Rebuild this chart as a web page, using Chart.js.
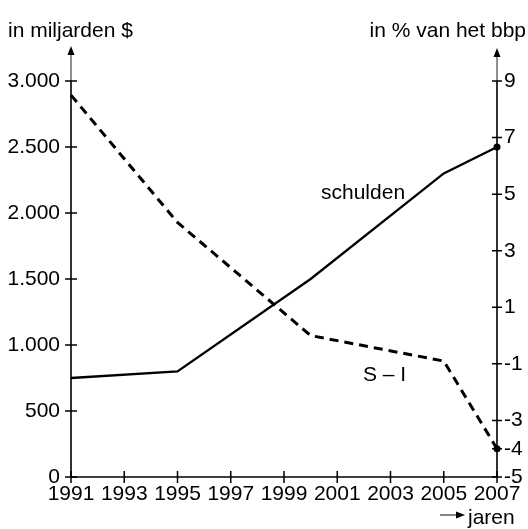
<!DOCTYPE html>
<html>
<head>
<meta charset="utf-8">
<script src="https://cdn.jsdelivr.net/npm/chart.js@4"></script>
<style>
  html, body { margin: 0; padding: 0; background: #fff; }
  #wrap { width: 528px; height: 529px; position: relative; }
</style>
</head>
<body>
<div id="wrap"><canvas id="c" width="528" height="529"></canvas></div>
<script>
// ---- data ----
const years = [1991, 1995, 2000, 2005, 2007];
const schulden = [750, 800, 1500, 2300, 2500];       // in miljarden $
const spaarInvest = [8.5, 4.0, 0.0, -0.9, -4.0];      // S - I, in % van het bbp
const xTicks = [1991, 1993, 1995, 1997, 1999, 2001, 2003, 2005, 2007];
const leftTicks = [0, 500, 1000, 1500, 2000, 2500, 3000];
const rightTicks = [-5, -4, -3, -1, 1, 3, 5, 7, 9];
const leftTitle = 'in miljarden $';
const rightTitle = 'in % van het bbp';
const xTitle = 'jaren';
const labelSchulden = 'schulden';
const labelSI = 'S \u2013 I';

const FONT = '"Liberation Sans", Arial, Helvetica, sans-serif';
const FS = 21;

function lastOnly(ctx) {
  return ctx.dataIndex === ctx.dataset.data.length - 1 ? 3.5 : 0;
}

const decor = {
  id: 'decor',
  afterDraw(chart) {
    const { ctx, chartArea: a, scales } = chart;
    const x = scales.x, y = scales.y, y2 = scales.y2;
    const L = a.left, R = a.right, B = a.bottom, T = a.top;
    ctx.save();
    ctx.strokeStyle = '#000';
    ctx.fillStyle = '#000';
    ctx.lineCap = 'butt';

    // axes
    ctx.lineWidth = 1.6;
    ctx.beginPath();
    ctx.moveTo(L, B); ctx.lineTo(R, B);
    ctx.moveTo(L, B); ctx.lineTo(L, T);
    ctx.moveTo(R, B); ctx.lineTo(R, T);
    ctx.stroke();
    // axis extensions to arrows (grey)
    ctx.strokeStyle = '#555';
    ctx.lineWidth = 1.3;
    ctx.beginPath();
    ctx.moveTo(L, T); ctx.lineTo(L, 52);
    ctx.moveTo(R, T); ctx.lineTo(R, 55);
    ctx.stroke();
    function arrowUp(px, tip) {
      ctx.beginPath();
      ctx.moveTo(px, tip);
      ctx.lineTo(px - 3.5, tip + 9);
      ctx.lineTo(px + 3.5, tip + 9);
      ctx.closePath();
      ctx.fill();
    }
    arrowUp(L, 46);
    arrowUp(R, 48);

    // tick crosses
    ctx.strokeStyle = '#000';
    ctx.lineWidth = 1.5;
    ctx.beginPath();
    leftTicks.forEach(v => { const py = y.getPixelForValue(v); ctx.moveTo(L - 6, py); ctx.lineTo(L + 6, py); });
    rightTicks.forEach(v => { const py = y2.getPixelForValue(v); ctx.moveTo(R - 5, py); ctx.lineTo(R + 5, py); });
    xTicks.forEach(v => { const px = x.getPixelForValue(v); ctx.moveTo(px, B - 6); ctx.lineTo(px, B + 6); });
    ctx.stroke();

    // titles
    ctx.font = FS + 'px ' + FONT;
    ctx.textBaseline = 'alphabetic';
    ctx.textAlign = 'left';
    ctx.fillText(leftTitle, 8, 37);
    ctx.textAlign = 'right';
    ctx.fillText(rightTitle, 526, 37);

    // x title with arrow
    ctx.textAlign = 'left';
    ctx.fillText(xTitle, 468, 524);
    ctx.strokeStyle = '#333';
    ctx.lineWidth = 1.2;
    ctx.beginPath(); ctx.moveTo(440, 515); ctx.lineTo(457, 515); ctx.stroke();
    ctx.beginPath(); ctx.moveTo(465, 515); ctx.lineTo(456, 511.5); ctx.lineTo(456, 518.5); ctx.closePath(); ctx.fill();

    // series labels
    ctx.textAlign = 'left';
    ctx.fillText(labelSchulden, 321, 199);
    ctx.fillText(labelSI, 363, 381);
    ctx.restore();
  }
};

new Chart(document.getElementById('c'), {
  type: 'line',
  data: {
    datasets: [
      {
        label: 'schulden',
        data: years.map((yr, i) => ({ x: yr, y: schulden[i] })),
        yAxisID: 'y',
        borderColor: '#000',
        backgroundColor: '#000',
        borderWidth: 2.3,
        pointRadius: lastOnly,
        pointBorderWidth: 0,
        tension: 0
      },
      {
        label: 'S - I',
        data: years.map((yr, i) => ({ x: yr, y: spaarInvest[i] })),
        yAxisID: 'y2',
        borderColor: '#000',
        backgroundColor: '#000',
        borderWidth: 3,
        borderDash: [9, 6],
        pointRadius: lastOnly,
        pointBorderWidth: 0,
        tension: 0
      }
    ]
  },
  options: {
    responsive: false,
    animation: false,
    clip: false,
    layout: { padding: { top: 81, left: 0, right: 0, bottom: 0 } },
    plugins: { legend: { display: false }, tooltip: { enabled: false } },
    scales: {
      x: {
        type: 'linear',
        min: 1991, max: 2007,
        afterBuildTicks: s => { s.ticks = xTicks.map(v => ({ value: v })); },
        afterFit: s => { s.height = 52; },
        ticks: { color: '#000', font: { size: FS, family: FONT }, padding: 5, maxRotation: 0, autoSkip: false, callback: v => String(v) },
        grid: { display: false, drawTicks: false },
        border: { display: false }
      },
      y: {
        position: 'left',
        min: 0, max: 3000,
        afterBuildTicks: s => { s.ticks = leftTicks.map(v => ({ value: v })); },
        afterFit: s => { s.width = 71; },
        ticks: { color: '#000', font: { size: FS, family: FONT }, padding: 11,
          callback: v => v >= 1000 ? (Math.floor(v / 1000) + '.' + String(v % 1000).padStart(3, '0')) : String(v) },
        grid: { display: false, drawTicks: false },
        border: { display: false }
      },
      y2: {
        position: 'right',
        min: -5, max: 9,
        afterBuildTicks: s => { s.ticks = rightTicks.map(v => ({ value: v })); },
        afterFit: s => { s.width = 31; },
        ticks: { color: '#000', font: { size: FS, family: FONT }, padding: 7, autoSkip: false, callback: v => String(v) },
        grid: { display: false, drawTicks: false },
        border: { display: false }
      }
    }
  },
  plugins: [decor]
});
</script>
</body>
</html>
